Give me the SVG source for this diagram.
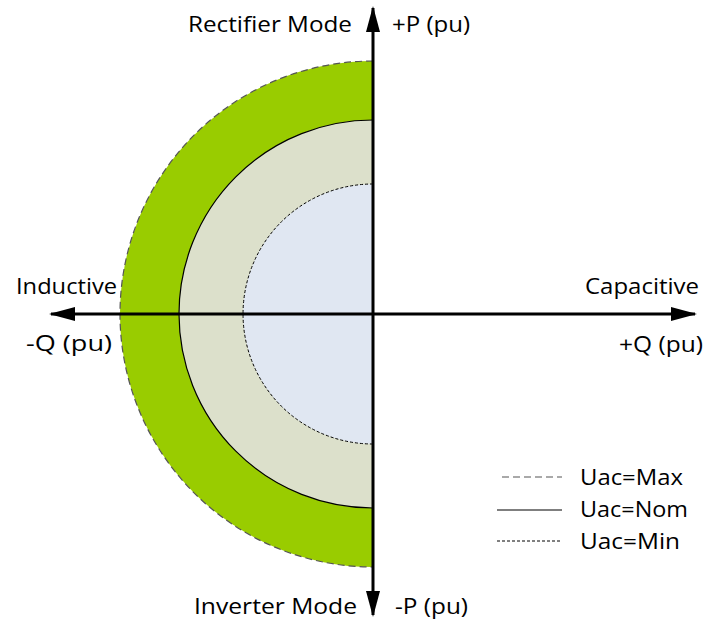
<svg xmlns="http://www.w3.org/2000/svg" width="704" height="622" viewBox="0 0 704 622">
  <style>
    text { font-family: "Open Sans", "Liberation Sans", sans-serif; font-size: 21.5px; fill: #000; }
    .axis { stroke: #000; stroke-width: 3; fill: none; }
    .max { stroke: #555; stroke-width: 1.2; stroke-dasharray: 7 4; }
    .nom { stroke: #000; stroke-width: 1.2; }
    .min { stroke: #000; stroke-width: 1; stroke-dasharray: 3 2; }
  </style>
  <defs>
    <marker id="arrow" viewBox="0 0 26 14" refX="24" refY="7" markerWidth="26" markerHeight="14" markerUnits="userSpaceOnUse" orient="auto">
      <path d="M0,0 L26,7 L0,14 Z" fill="#000"/>
    </marker>
  </defs>

  <rect width="704" height="622" fill="#fff"/>

  <!-- capability regions (left half-discs about origin 373,314) -->
  <g id="region-max">
    <path d="M373,61 A253,253 0 0 0 373,567 Z" fill="#99CC00"/>
    <path d="M373,61 A253,253 0 0 0 373,567" fill="none" class="max"/>
  </g>
  <g id="region-nom">
    <path d="M373,120 A194,194 0 0 0 373,508 Z" fill="#DCE0CB"/>
    <path d="M373,120 A194,194 0 0 0 373,508" fill="none" class="nom"/>
  </g>
  <g id="region-min">
    <path d="M373,184 A130,130 0 0 0 373,444 Z" fill="#E0E7F2"/>
    <path d="M373,184 A130,130 0 0 0 373,444" fill="none" class="min"/>
  </g>

  <!-- axes -->
  <g id="axes">
    <line x1="373" y1="314" x2="373" y2="8" class="axis" marker-end="url(#arrow)"/>
    <line x1="373" y1="314" x2="373" y2="615" class="axis" marker-end="url(#arrow)"/>
    <line x1="373" y1="314" x2="51" y2="314" class="axis" marker-end="url(#arrow)"/>
    <line x1="373" y1="314" x2="695" y2="314" class="axis" marker-end="url(#arrow)"/>
  </g>

  <!-- axis labels -->
  <g id="labels">
    <text x="188" y="32" textLength="164" lengthAdjust="spacingAndGlyphs">Rectifier Mode</text>
    <text x="392" y="32" textLength="78" lengthAdjust="spacingAndGlyphs">+P (pu)</text>
    <text x="16" y="294" textLength="101" lengthAdjust="spacingAndGlyphs">Inductive</text>
    <text x="26" y="351" textLength="86" lengthAdjust="spacingAndGlyphs">-Q (pu)</text>
    <text x="585" y="294" textLength="114" lengthAdjust="spacingAndGlyphs">Capacitive</text>
    <text x="619" y="352" textLength="84" lengthAdjust="spacingAndGlyphs">+Q (pu)</text>
    <text x="194" y="614" textLength="163" lengthAdjust="spacingAndGlyphs">Inverter Mode</text>
    <text x="395" y="614" textLength="73" lengthAdjust="spacingAndGlyphs">-P (pu)</text>
  </g>

  <!-- legend -->
  <g id="legend">
    <line x1="502" y1="477" x2="562" y2="477" class="max"/>
    <text x="580" y="485" textLength="103" lengthAdjust="spacingAndGlyphs">Uac=Max</text>
    <line x1="497" y1="510" x2="562" y2="510" class="nom"/>
    <text x="580" y="517" textLength="108" lengthAdjust="spacingAndGlyphs">Uac=Nom</text>
    <line x1="497" y1="541" x2="562" y2="541" class="min"/>
    <text x="580" y="549" textLength="100" lengthAdjust="spacingAndGlyphs">Uac=Min</text>
  </g>
</svg>
